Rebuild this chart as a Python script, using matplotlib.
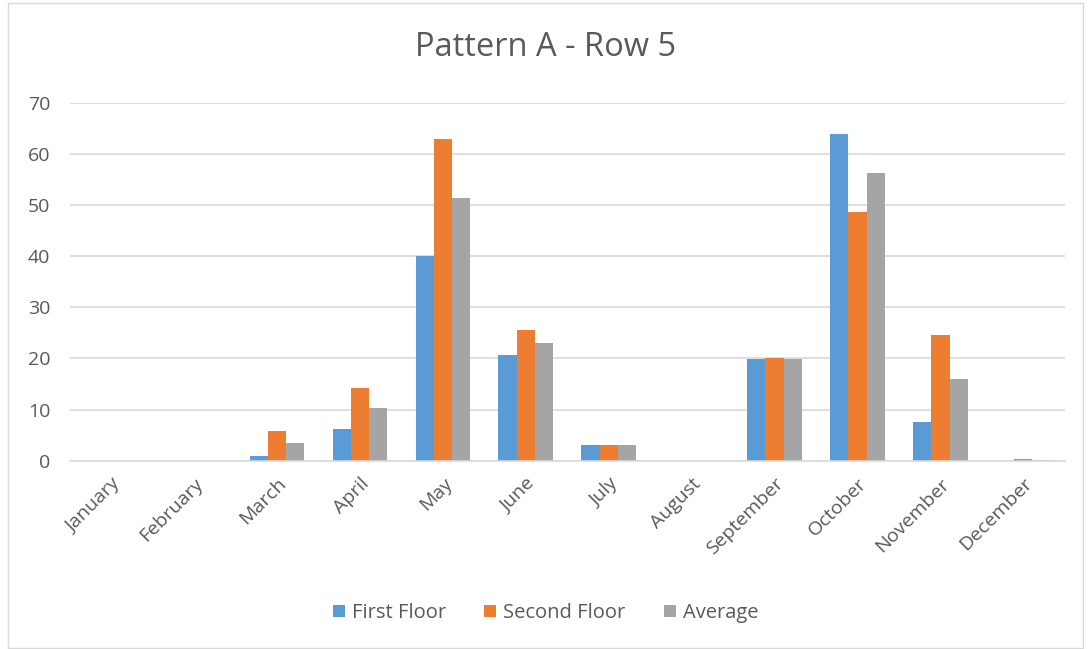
import matplotlib
matplotlib.use("Agg")
import matplotlib.pyplot as plt
import numpy as np
from matplotlib.patches import Rectangle

months = ["January", "February", "March", "April", "May", "June", "July",
          "August", "September", "October", "November", "December"]
first_floor = [0, 0, 0.9, 6.3, 40.0, 20.6, 3.0, 0, 19.9, 63.8, 7.5, 0]
second_floor = [0, 0, 5.9, 14.3, 62.8, 25.6, 3.1, 0, 20.0, 48.6, 24.5, 0.3]
average = [0, 0, 3.4, 10.3, 51.4, 23.1, 3.05, 0, 19.95, 56.2, 16.0, 0.15]
series_names = ["First Floor", "Second Floor", "Average"]
colors = ["#5B9BD5", "#ED7D31", "#A5A5A5"]
yticks = [0, 10, 20, 30, 40, 50, 60, 70]

plt.rcParams['font.family'] = ['Open Sans', 'DejaVu Sans']
txt = "#595959"

fig = plt.figure(figsize=(10.91, 6.49), dpi=100)
ax = fig.add_axes([0.064, 0.290, 0.912, 0.552])

x = np.arange(len(months))
w = 0.22
for i, (vals, name, c) in enumerate(zip([first_floor, second_floor, average], series_names, colors)):
    ax.bar(x + (i - 1) * w, vals, width=w, color=c, label=name, zorder=3)

ax.set_xlim(-0.5, len(months) - 0.5)
ax.set_ylim(0, 70)
ax.set_yticks(yticks)
ax.set_yticklabels([str(v) for v in yticks], fontsize=14, color=txt)
ax.set_xticks(x)
ax.set_xticklabels(months, rotation=45, ha="right", rotation_mode="anchor", fontsize=14, color=txt)
ax.tick_params(axis="both", length=0)
ax.tick_params(axis="y", pad=14)
ax.tick_params(axis="x", pad=10)
ax.grid(axis="y", color="#D9D9D9", linewidth=1.2, zorder=0)
for s in ["top", "right", "left"]:
    ax.spines[s].set_visible(False)
ax.spines["bottom"].set_color("#D9D9D9")
ax.spines["bottom"].set_linewidth(1.2)
ax.spines["bottom"].set_zorder(4)

fig.text(0.5, 1 - 47 / 649, "Pattern A - Row 5", ha="center", va="center", fontsize=23.5, color=txt)

fig.legend(loc="center", bbox_to_anchor=(0.5, 1 - 613 / 649), ncol=3, frameon=False,
           fontsize=14.5, handlelength=0.6, handleheight=0.6, columnspacing=1.9, handletextpad=0.35,
           labelcolor=txt)

fig.patches.append(Rectangle((8 / 1091, 0.002), 1 - 16 / 1091, 0.994, transform=fig.transFigure,
                             fill=False, edgecolor="#D9D9D9", linewidth=1))

fig.savefig("out.png", dpi=100)
